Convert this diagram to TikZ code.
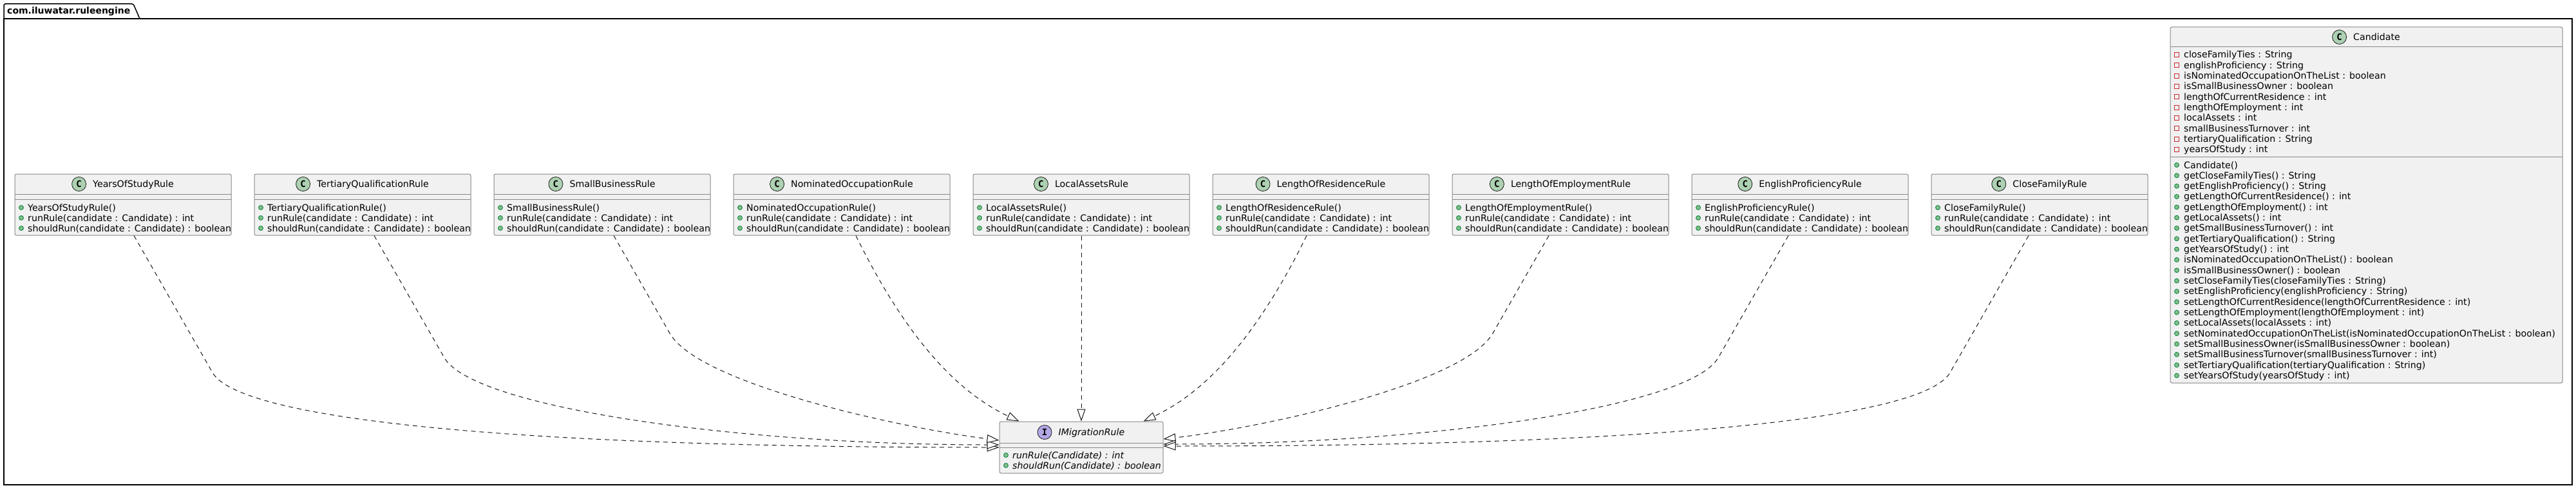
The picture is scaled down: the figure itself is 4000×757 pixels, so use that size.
\documentclass[tikz,border=0pt]{standalone}
\usepackage{fontspec}
\setmainfont{DejaVu Sans}
\setmonofont{DejaVu Sans Mono}
\usetikzlibrary{arrows.meta}
\definecolor{boxfill}{HTML}{F1F1F1}
\definecolor{boxline}{HTML}{888888}
\definecolor{ink}{HTML}{181818}
\definecolor{cgreen}{HTML}{ADD1B2}
\definecolor{ipurple}{HTML}{B4A7E5}
\definecolor{mfill}{HTML}{84BE84}
\definecolor{mline}{HTML}{038048}
\definecolor{fline}{HTML}{C82930}
\tikzset{
  classbox/.style={draw=boxline, fill=boxfill, line width=1pt, rounded corners=2.5pt, inner sep=0},
  divider/.style={draw=boxline, line width=1pt},
  titletext/.style={inner sep=0, font=\fontsize{14.2}{16}\selectfont},
  rowtext/.style={inner sep=0, anchor=base west, font=\fontsize{14.2}{16}\selectfont},
  itrowtext/.style={inner sep=0, anchor=base west, font=\fontsize{14.2}{16}\selectfont\itshape},
  stereo/.style={circle, draw=ink, line width=0.8pt, minimum size=22pt, inner sep=0, font=\fontsize{14}{16}\selectfont\ttfamily\bfseries},
  micon/.style={circle, draw=mline, fill=mfill, line width=0.8pt, minimum size=7pt, inner sep=0},
  ficon/.style={rectangle, draw=fline, line width=0.8pt, minimum size=7pt, inner sep=0},
  pkg/.style={draw=black, line width=1.5pt},
  realize/.style={draw=ink, line width=1pt, dash pattern=on 7pt off 6pt, -{Triangle[fill=white, length=19pt, width=13pt]}},
}
\newcommand\ruleclass[3]{%
  \pgfmathsetmacro\rlx{#2-168}%
  \pgfmathsetmacro\rrx{#2+168}%
  \pgfmathsetmacro\rix{#2-158}%
  \pgfmathsetmacro\rtx{#2-148}%
  \pgfmathsetmacro\rhx{#2+16}%
  \node[classbox, minimum width=336, minimum height=95] (#1) at (#2,317.5) {};
  \draw[divider] (\rlx,301) -- (\rrx,301);
  \draw[divider] (\rlx,309) -- (\rrx,309);
  \node[titletext, anchor=base] (#1-t) at (\rhx,290.7) {#3};
  \node[stereo, fill=cgreen, anchor=east] (#1-c) at ([xshift=-10pt,yshift=5.2pt]#1-t.base west) {C};
  \node[micon] at (\rix,322) {};
  \node[rowtext] at (\rtx,327) {#3()};
  \node[micon] at (\rix,338) {};
  \node[rowtext] at (\rtx,343) {runRule(candidate : Candidate) : int};
  \node[micon] at (\rix,354) {};
  \node[rowtext] at (\rtx,359) {shouldRun(candidate : Candidate) : boolean};
}
\begin{document}
\begin{tikzpicture}[x=1pt,y=-1pt]
\useasboundingbox[fill=white] (0,0) rectangle (4000,757);
% package frame
\draw[pkg] (6,29) rectangle (3994,752);
\draw[pkg, rounded corners=2.5pt] (6,29) -- (6,6) -- (207,6) -- (217,29);
\node[anchor=base west, inner sep=0, font=\fontsize{14}{16}\selectfont\bfseries] (pkgname) at (11,22) {com.iluwatar.ruleengine};
% rule classes
\ruleclass{years}{191}{YearsOfStudyRule}
\ruleclass{tertiary}{563}{TertiaryQualificationRule}
\ruleclass{small}{935}{SmallBusinessRule}
\ruleclass{nominated}{1307}{NominatedOccupationRule}
\ruleclass{local}{1679}{LocalAssetsRule}
\ruleclass{residence}{2051}{LengthOfResidenceRule}
\ruleclass{employment}{2423}{LengthOfEmploymentRule}
\ruleclass{english}{2795}{EnglishProficiencyRule}
\ruleclass{family}{3167}{CloseFamilyRule}
% interface
\node[classbox, minimum width=254, minimum height=80] (imr) at (1679,694) {};
\draw[divider] (1552,687) -- (1806,687);
\draw[divider] (1552,694) -- (1806,694);
\node[titletext, anchor=base, font=\fontsize{14.2}{16}\selectfont\itshape] (imr-t) at (1695,675.7) {IMigrationRule};
\node[stereo, fill=ipurple, anchor=east] (imr-c) at ([xshift=-10pt,yshift=5.2pt]imr-t.base west) {I};
\node[micon] at (1562,706) {};
\node[itrowtext] at (1572,711) {runRule(Candidate) : int};
\node[micon] at (1562,722) {};
\node[itrowtext] at (1572,727) {shouldRun(Candidate) : boolean};
% Candidate
\node[classbox, minimum width=609, minimum height=552] (cand) at (3674.5,318) {};
\draw[divider] (3370,73) -- (3979,73);
\draw[divider] (3370,243) -- (3979,243);
\node[titletext, anchor=base] (cand-t) at (3690.5,62.7) {Candidate};
\node[stereo, fill=cgreen, anchor=east] (cand-c) at ([xshift=-10pt,yshift=5.2pt]cand-t.base west) {C};
\foreach \txt [count=\i from 0] in {closeFamilyTies : String, englishProficiency : String, isNominatedOccupationOnTheList : boolean, isSmallBusinessOwner : boolean, lengthOfCurrentResidence : int, lengthOfEmployment : int, localAssets : int, smallBusinessTurnover : int, tertiaryQualification : String, yearsOfStudy : int}{
  \pgfmathsetmacro\yy{85+16.33*\i}
  \node[ficon] at (3380,\yy) {};
  \node[rowtext] at (3391,\yy+5) {\txt};
}
\foreach \txt [count=\i from 0] in {Candidate(), getCloseFamilyTies() : String, getEnglishProficiency() : String, getLengthOfCurrentResidence() : int, getLengthOfEmployment() : int, getLocalAssets() : int, getSmallBusinessTurnover() : int, getTertiaryQualification() : String, getYearsOfStudy() : int, isNominatedOccupationOnTheList() : boolean, isSmallBusinessOwner() : boolean, setCloseFamilyTies(closeFamilyTies : String), setEnglishProficiency(englishProficiency : String), setLengthOfCurrentResidence(lengthOfCurrentResidence : int), setLengthOfEmployment(lengthOfEmployment : int), setLocalAssets(localAssets : int), setNominatedOccupationOnTheList(isNominatedOccupationOnTheList : boolean), setSmallBusinessOwner(isSmallBusinessOwner : boolean), setSmallBusinessTurnover(smallBusinessTurnover : int), setTertiaryQualification(tertiaryQualification : String), setYearsOfStudy(yearsOfStudy : int)}{
  \pgfmathsetmacro\yy{256+16.33*\i}
  \node[micon] at (3380,\yy) {};
  \node[rowtext] at (3391,\yy+5) {\txt};
}
% realizations
\draw[realize] ([xshift=17pt]years.south) -- (330,578) .. controls (372,651) and (800,694) .. (imr.west);
\draw[realize] ([xshift=18pt]tertiary.south) -- (690,555) .. controls (735,633) and (1150,690) .. ([yshift=4pt]imr.west);
\draw[realize] ([xshift=18pt]small.south) -- (1040,517) .. controls (1085,596) and (1400,664) .. ([yshift=11pt]imr.west);
\draw[realize] ([xshift=22pt]nominated.south) .. controls (1410,530) and (1490,610) .. ([xshift=31pt]imr.north west);
\draw[realize] (local.south) -- (imr.north);
\draw[realize] ([xshift=-22pt]residence.south) .. controls (1948,530) and (1868,610) .. ([xshift=-31pt]imr.north east);
\draw[realize] ([xshift=-18pt]employment.south) -- (2318,517) .. controls (2273,596) and (1958,664) .. ([yshift=13pt]imr.east);
\draw[realize] ([xshift=-18pt]english.south) -- (2668,555) .. controls (2623,633) and (2208,689) .. ([yshift=5pt]imr.east);
\draw[realize] ([xshift=-17pt]family.south) -- (3028,578) .. controls (2986,651) and (2558,692) .. ([yshift=2pt]imr.east);
\end{tikzpicture}
\end{document}
